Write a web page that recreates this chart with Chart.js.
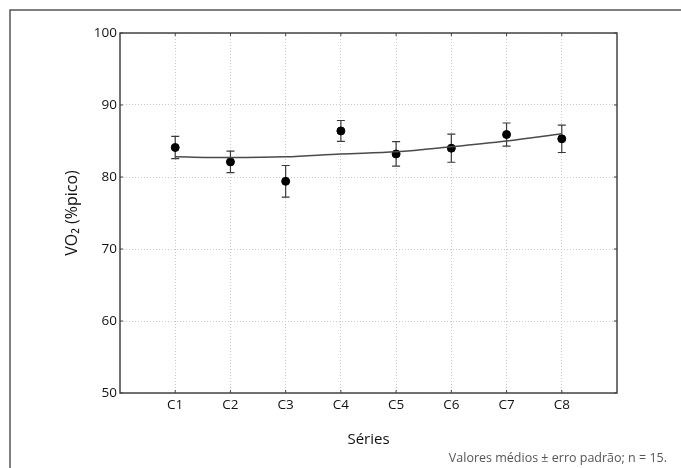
<!DOCTYPE html>
<html>
<head>
<meta charset="utf-8">
<script src="https://cdn.jsdelivr.net/npm/chart.js@4.4.1/dist/chart.umd.min.js"></script>
<style>
  html, body { margin: 0; padding: 0; background: #fff; }
  canvas { display: block; }
</style>
</head>
<body>
<canvas id="vo2Chart" width="681" height="468"></canvas>
<script>
const categories = ["C1", "C2", "C3", "C4", "C5", "C6", "C7", "C8"];
const meanValues = [84.1, 82.1, 79.4, 86.4, 83.2, 84.0, 85.9, 85.3];
const errorValues = [1.55, 1.5, 2.2, 1.45, 1.7, 1.95, 1.6, 1.9];
const fitValues = [82.8, 82.7, 82.8, 83.2, 83.5, 84.2, 85.0, 86.0];
const yTicks = [50, 60, 70, 80, 90, 100];
const footNote = "Valores médios ± erro padrão; n = 15.";

const fontFamily = "'Open Sans', 'Noto Sans', sans-serif";

// error bars + plot frame + outer frame + footnote
const decorations = {
    id: "decorations",
    beforeDatasetsDraw(chart) {
        const ctx = chart.ctx;
        const x = chart.scales.x, y = chart.scales.y;
        ctx.save();
        ctx.strokeStyle = "#3a3a3a";
        ctx.lineWidth = 1.2;
        meanValues.forEach((m, i) => {
            const px = x.getPixelForValue(i + 1);
            const top = y.getPixelForValue(m + errorValues[i]);
            const bot = y.getPixelForValue(m - errorValues[i]);
            ctx.beginPath();
            ctx.moveTo(px, top); ctx.lineTo(px, bot);
            ctx.moveTo(px - 4, top); ctx.lineTo(px + 4, top);
            ctx.moveTo(px - 4, bot); ctx.lineTo(px + 4, bot);
            ctx.stroke();
        });
        ctx.restore();
    },
    afterDraw(chart) {
        const ctx = chart.ctx;
        const a = chart.chartArea;
        const x = chart.scales.x, y = chart.scales.y;
        ctx.save();
        ctx.strokeStyle = "#444";
        ctx.lineWidth = 1.5;
        ctx.strokeRect(a.left, a.top, a.right - a.left, a.bottom - a.top);

        // small inward ticks
        ctx.lineWidth = 1;
        ctx.beginPath();
        for (let i = 1; i <= categories.length; i++) {
            const px = x.getPixelForValue(i);
            ctx.moveTo(px, a.top); ctx.lineTo(px, a.top + 3);
            ctx.moveTo(px, a.bottom); ctx.lineTo(px, a.bottom - 3);
        }
        yTicks.forEach(v => {
            const py = y.getPixelForValue(v);
            ctx.moveTo(a.left, py); ctx.lineTo(a.left + 3, py);
            ctx.moveTo(a.right, py); ctx.lineTo(a.right - 3, py);
        });
        ctx.stroke();

        // outer frame (top and left only)
        ctx.strokeStyle = "#555";
        ctx.lineWidth = 1.5;
        ctx.beginPath();
        ctx.moveTo(10, chart.height);
        ctx.lineTo(10, 10);
        ctx.lineTo(chart.width, 10);
        ctx.stroke();

        ctx.fillStyle = "#555";
        ctx.font = "12.5px " + fontFamily;
        ctx.textAlign = "right";
        ctx.textBaseline = "middle";
        ctx.fillText(footNote, 667, 458);
        ctx.restore();
    }
};

const ctx = document.getElementById("vo2Chart").getContext("2d");

window.vo2Chart = new Chart(ctx, {
    type: "scatter",
    plugins: [decorations],
    data: {
        datasets: [
            {
                label: "Ajuste",
                type: "line",
                data: fitValues.map((v, i) => ({ x: i + 1, y: v })),
                borderColor: "#4a4a4a",
                borderWidth: 1.5,
                pointRadius: 0,
                cubicInterpolationMode: "monotone",
                fill: false
            },
            {
                label: "VO2",
                data: meanValues.map((v, i) => ({ x: i + 1, y: v })),
                backgroundColor: "#000",
                borderColor: "#000",
                pointRadius: 4,
                pointHoverRadius: 4
            }
        ]
    },
    options: {
        responsive: false,
        animation: false,
        events: [],
        layout: { padding: { top: 33, right: 64, left: 0, bottom: 0 } },
        plugins: {
            legend: { display: false },
            tooltip: { enabled: false }
        },
        scales: {
            x: {
                type: "linear",
                min: 0,
                max: 9,
                afterFit: s => { s.height = 75; },
                afterBuildTicks: s => {
                    s.ticks = categories.map((c, i) => ({ value: i + 1 }));
                },
                ticks: {
                    callback: v => categories[v - 1] || "",
                    color: "#111",
                    font: { family: fontFamily, size: 13.5 },
                    padding: 4
                },
                grid: { color: "#c8c8c8", lineWidth: 1, drawTicks: false },
                border: { display: false, dash: [1, 2] },
                title: {
                    display: true,
                    text: "Séries",
                    color: "#111",
                    font: { family: fontFamily, size: 15 },
                    padding: { top: 4, bottom: 19 }
                }
            },
            y: {
                min: 50,
                max: 100,
                afterFit: s => { s.width = 120; },
                afterBuildTicks: s => {
                    s.ticks = yTicks.map(v => ({ value: v }));
                },
                ticks: {
                    color: "#111",
                    font: { family: fontFamily, size: 13.5 },
                    padding: 3
                },
                grid: { color: "#c8c8c8", lineWidth: 1, drawTicks: false },
                border: { display: false, dash: [1, 2] },
                title: {
                    display: true,
                    text: "VO₂ (%pico)",
                    color: "#111",
                    font: { family: fontFamily, size: 16 },
                    padding: { top: 63, bottom: 0 }
                }
            }
        }
    }
});
</script>
</body>
</html>
